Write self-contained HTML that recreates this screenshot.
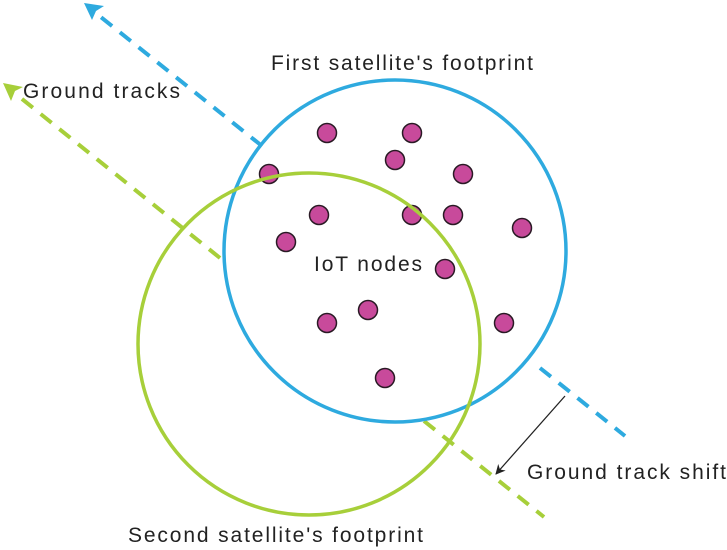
<!DOCTYPE html>
<html><head><style>
html,body{margin:0;padding:0;background:#fff;}
svg{display:block;}
text{font-family:"Liberation Sans",sans-serif;font-size:21px;fill:#222;}
</style></head><body>
<svg width="727" height="550" viewBox="0 0 727 550" xmlns="http://www.w3.org/2000/svg">
<defs>
<marker id="ab" markerWidth="10" markerHeight="10" refX="9" refY="5" orient="auto" markerUnits="userSpaceOnUse"><path d="M0,0 L10,5 L0,10 L3,5 Z" fill="#222"/></marker>
</defs>
<g stroke="#2eaadf" stroke-width="4" stroke-dasharray="14,10" fill="none">
<line x1="262" y1="146" x2="97" y2="14"/>
<line x1="540" y1="368" x2="625" y2="436"/>
</g>
<path d="M84,3 L104,6 L96,11 L92,20 Z" fill="#2eaadf"/>
<g stroke="#a7cf3a" stroke-width="4" stroke-dasharray="14,10" fill="none">
<line x1="220" y1="258" x2="17" y2="95"/>
<line x1="424" y1="421" x2="544" y2="517"/>
</g>
<path d="M3,83 L23,87 L15,91 L11,101 Z" fill="#a7cf3a"/>
<circle cx="395" cy="251" r="171" fill="none" stroke="#2eaadf" stroke-width="3.5"/>
<g fill="#c84a9b" stroke="#2a1a25" stroke-width="1.5">
<circle cx="327" cy="133" r="9.5"/><circle cx="412" cy="133" r="9.5"/><circle cx="395" cy="160" r="9.5"/>
<circle cx="463" cy="174" r="9.5"/><circle cx="269" cy="174" r="9.5"/><circle cx="319" cy="215" r="9.5"/>
<circle cx="412" cy="215" r="9.5"/><circle cx="453" cy="215" r="9.5"/><circle cx="522" cy="228" r="9.5"/>
<circle cx="286" cy="242" r="9.5"/><circle cx="445" cy="269" r="9.5"/><circle cx="368" cy="310" r="9.5"/>
<circle cx="327" cy="323" r="9.5"/><circle cx="504" cy="323" r="9.5"/><circle cx="385" cy="378" r="9.5"/>
</g>
<circle cx="309" cy="344" r="171" fill="none" stroke="#a7cf3a" stroke-width="3.5"/>
<line x1="565" y1="396" x2="496" y2="474" stroke="#222" stroke-width="1.3" marker-end="url(#ab)"/>
<text x="271" y="70" textLength="262" lengthAdjust="spacing">First satellite's footprint</text>
<text x="23" y="98" textLength="157" lengthAdjust="spacing">Ground tracks</text>
<text x="314" y="271" textLength="108" lengthAdjust="spacing">IoT nodes</text>
<text x="527" y="479" textLength="199" lengthAdjust="spacing">Ground track shift</text>
<text x="128" y="542" textLength="295" lengthAdjust="spacing">Second satellite's footprint</text>
</svg>
</body></html>
